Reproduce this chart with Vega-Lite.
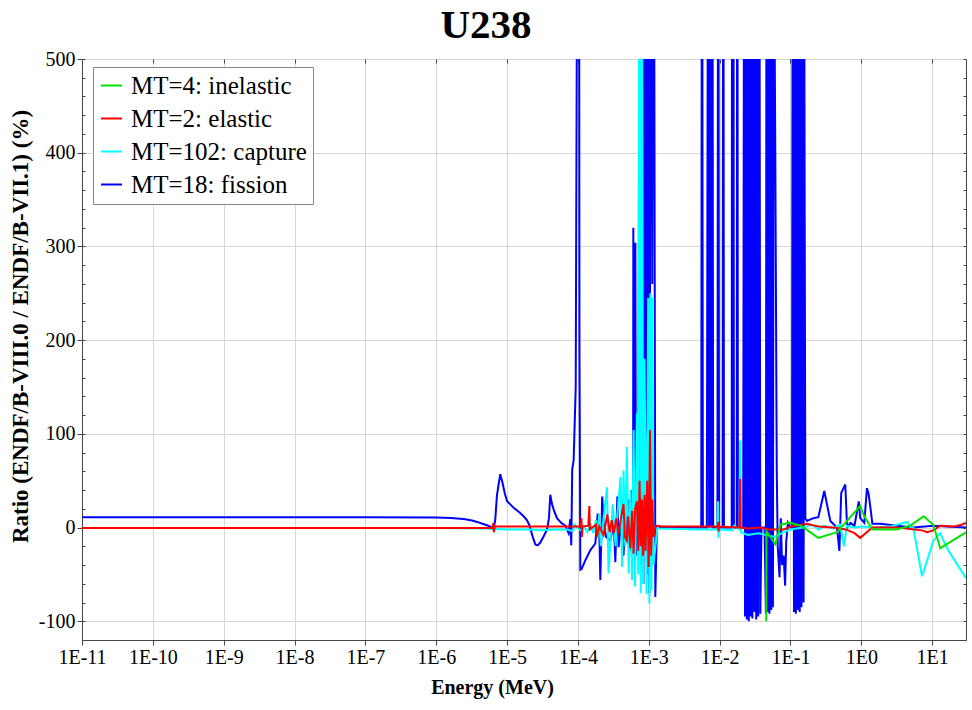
{
  "$schema": "https://vega.github.io/schema/vega-lite/v6.json",
  "width": 884,
  "height": 581,
  "autosize": {"type": "none"},
  "padding": {"left": 82, "top": 59, "right": 6, "bottom": 70},
  "background": "white",
  "title": {"text": "U238", "font": "Liberation Serif", "fontSize": 41, "fontWeight": "bold", "color": "black", "offset": 2, "anchor": "middle", "dx": -38},
  "config": {
    "view": {"stroke": "#444", "strokeWidth": 1},
    "axis": {"domainColor": "#444", "tickColor": "#444", "labelColor": "black", "titleColor": "black", "labelFont": "Liberation Serif", "titleFont": "Liberation Serif", "gridColor": "#d6d6d6", "gridWidth": 1}
  },
  "datasets": {
    "fission": [
      {"e":1e-11,"v":11},{"e":1e-9,"v":11},{"e":1e-7,"v":11},{"e":1e-6,"v":10.8},{"e":1.6e-6,"v":10.3},{"e":2.43e-6,"v":9},{"e":3.2e-6,"v":7.5},{"e":3.76e-6,"v":6},{"e":4.5e-6,"v":4},{"e":5.2e-6,"v":2.5},{"e":5.8e-6,"v":1},{"e":6.1e-6,"v":0},{"e":6.45e-6,"v":-2},{"e":6.8e-6,"v":8},{"e":7.2e-6,"v":35},{"e":8.0e-6,"v":57},{"e":8.6e-6,"v":48},{"e":9.3e-6,"v":36},{"e":1.0e-5,"v":28},{"e":1.24e-5,"v":21},{"e":1.5e-5,"v":16},{"e":1.71e-5,"v":12},{"e":1.9e-5,"v":8},{"e":2.08e-5,"v":2},{"e":2.3e-5,"v":-10},{"e":2.5e-5,"v":-18},{"e":2.7e-5,"v":-19},{"e":2.94e-5,"v":-16},{"e":3.3e-5,"v":-9},{"e":3.66e-5,"v":-2},{"e":3.9e-5,"v":10},{"e":4.07e-5,"v":35},{"e":4.3e-5,"v":25},{"e":4.6e-5,"v":18},{"e":5.06e-5,"v":10},{"e":5.8e-5,"v":5},{"e":6.63e-5,"v":2},{"e":7.38e-5,"v":-6},{"e":7.8e-5,"v":9},{"e":8.05e-5,"v":-19},{"e":8.3e-5,"v":62},{"e":8.7e-5,"v":72},{"e":9.3e-5,"v":150},{"e":9.8e-5,"v":700},{"e":1.02e-4,"v":1500},{"e":1.05e-4,"v":200},{"e":1.08e-4,"v":-45},{"e":1.13e-4,"v":-44},{"e":1.27e-4,"v":-35},{"e":1.5e-4,"v":-24},{"e":1.76e-4,"v":-17},{"e":1.9e-4,"v":15},{"e":2.0e-4,"v":-3},{"e":2.07e-4,"v":-56},{"e":2.2e-4,"v":33},{"e":2.3e-4,"v":5},{"e":2.5e-4,"v":-10},{"e":2.86e-4,"v":-14},{"e":3.0e-4,"v":-6},{"e":3.2e-4,"v":8},{"e":3.37e-4,"v":-37},{"e":3.6e-4,"v":33},{"e":3.75e-4,"v":-21},{"e":3.96e-4,"v":-5},{"e":4.2e-4,"v":12},{"e":4.4e-4,"v":-30},{"e":4.67e-4,"v":20},{"e":4.9e-4,"v":-15},{"e":5.2e-4,"v":30},{"e":5.5e-4,"v":-25},{"e":5.8e-4,"v":40},{"e":6.0e-4,"v":-10},{"e":6.05e-4,"v":320},{"e":6.15e-4,"v":-20},{"e":6.46e-4,"v":304},{"e":6.6e-4,"v":-30},{"e":7.12e-4,"v":40},{"e":7.5e-4,"v":900},{"e":7.7e-4,"v":-40},{"e":7.9e-4,"v":150},{"e":8.1e-4,"v":900},{"e":8.4e-4,"v":-60},{"e":8.7e-4,"v":900},{"e":9.0e-4,"v":100},{"e":9.3e-4,"v":900},{"e":9.6e-4,"v":-50},{"e":9.85e-4,"v":800},{"e":1.02e-3,"v":-70},{"e":1.08e-3,"v":900},{"e":1.12e-3,"v":260},{"e":1.17e-3,"v":900},{"e":1.236e-3,"v":-74},{"e":1.3e-3,"v":0},{"e":5.5e-3,"v":0},{"e":5.64e-3,"v":900},{"e":5.8e-3,"v":0},{"e":6.6e-3,"v":0},{"e":6.92e-3,"v":900},{"e":7.1e-3,"v":0},{"e":7.3e-3,"v":900},{"e":7.6e-3,"v":0},{"e":7.87e-3,"v":900},{"e":8.1e-3,"v":0},{"e":9.3e-3,"v":0},{"e":9.57e-3,"v":900},{"e":9.8e-3,"v":0},{"e":1.10e-2,"v":0},{"e":1.127e-2,"v":900},{"e":1.15e-2,"v":0},{"e":1.48e-2,"v":0},{"e":1.50e-2,"v":900},{"e":1.53e-2,"v":0},{"e":1.56e-2,"v":900},{"e":1.59e-2,"v":0},{"e":1.74e-2,"v":0},{"e":1.774e-2,"v":900},{"e":1.81e-2,"v":0},{"e":2.15e-2,"v":0},{"e":2.23e-2,"v":900},{"e":2.28e-2,"v":-95},{"e":2.35e-2,"v":900},{"e":2.42e-2,"v":-98},{"e":2.5e-2,"v":900},{"e":2.58e-2,"v":-100},{"e":2.66e-2,"v":900},{"e":2.74e-2,"v":-95},{"e":2.82e-2,"v":900},{"e":2.9e-2,"v":-97},{"e":3.0e-2,"v":900},{"e":3.1e-2,"v":-90},{"e":3.18e-2,"v":900},{"e":3.28e-2,"v":-98},{"e":3.4e-2,"v":900},{"e":3.5e-2,"v":-95},{"e":3.62e-2,"v":900},{"e":3.75e-2,"v":-92},{"e":3.9e-2,"v":0},{"e":4.3e-2,"v":0},{"e":4.5e-2,"v":-92},{"e":4.6e-2,"v":900},{"e":4.75e-2,"v":-90},{"e":4.9e-2,"v":900},{"e":5.05e-2,"v":-92},{"e":5.19e-2,"v":900},{"e":5.35e-2,"v":-88},{"e":5.5e-2,"v":900},{"e":5.65e-2,"v":-85},{"e":5.8e-2,"v":700},{"e":6.1e-2,"v":400},{"e":6.4e-2,"v":60},{"e":6.6e-2,"v":-20},{"e":7.0e-2,"v":-53},{"e":7.3e-2,"v":10},{"e":7.6e-2,"v":-40},{"e":8.0e-2,"v":-30},{"e":8.4e-2,"v":-62},{"e":8.7e-2,"v":-15},{"e":9.2e-2,"v":5},{"e":9.9e-2,"v":0},{"e":0.105,"v":0},{"e":0.108,"v":900},{"e":0.112,"v":-90},{"e":0.115,"v":900},{"e":0.119,"v":-92},{"e":0.123,"v":900},{"e":0.127,"v":-88},{"e":0.131,"v":900},{"e":0.135,"v":-90},{"e":0.139,"v":900},{"e":0.143,"v":-85},{"e":0.148,"v":900},{"e":0.153,"v":-80},{"e":0.157,"v":500},{"e":0.162,"v":10},{"e":0.171,"v":7},{"e":0.21,"v":10},{"e":0.247,"v":11},{"e":0.30,"v":39},{"e":0.365,"v":7},{"e":0.453,"v":0},{"e":0.49,"v":-25},{"e":0.52,"v":37},{"e":0.593,"v":46},{"e":0.63,"v":0},{"e":0.70,"v":5},{"e":0.8,"v":2},{"e":0.92,"v":28},{"e":0.964,"v":10},{"e":1.1,"v":5},{"e":1.2,"v":42},{"e":1.265,"v":36},{"e":1.35,"v":20},{"e":1.43,"v":4},{"e":1.85,"v":4},{"e":3.18,"v":2},{"e":5.41,"v":0},{"e":10.36,"v":2},{"e":16,"v":1},{"e":30,"v":0}
    ],
    "capture": [
      {"e":1e-11,"v":-0.5},{"e":1e-6,"v":-0.5},{"e":5e-6,"v":-1},{"e":7e-6,"v":-1.5},{"e":1e-5,"v":-2},{"e":2e-5,"v":-2},{"e":3e-5,"v":-3},{"e":5e-5,"v":-2},{"e":7e-5,"v":-2},{"e":8.5e-5,"v":-4},{"e":9e-5,"v":3},{"e":1e-4,"v":-1},{"e":1.1e-4,"v":-3},{"e":1.2e-4,"v":2},{"e":1.35e-4,"v":-5},{"e":1.5e-4,"v":4},{"e":1.65e-4,"v":-6},{"e":1.8e-4,"v":8},{"e":1.9e-4,"v":-10},{"e":2.0e-4,"v":15},{"e":2.1e-4,"v":-20},{"e":2.3e-4,"v":10},{"e":2.57e-4,"v":43},{"e":2.7e-4,"v":-49},{"e":2.9e-4,"v":-10},{"e":3.1e-4,"v":25},{"e":3.4e-4,"v":-20},{"e":3.6e-4,"v":15},{"e":4.0e-4,"v":54},{"e":4.2e-4,"v":-42},{"e":4.4e-4,"v":61},{"e":4.65e-4,"v":-20},{"e":4.9e-4,"v":86},{"e":5.2e-4,"v":-49},{"e":5.5e-4,"v":40},{"e":5.8e-4,"v":-56},{"e":6.1e-4,"v":104},{"e":6.4e-4,"v":-63},{"e":6.8e-4,"v":122},{"e":7.1e-4,"v":-50},{"e":7.4e-4,"v":900},{"e":7.7e-4,"v":-70},{"e":7.95e-4,"v":900},{"e":8.3e-4,"v":-60},{"e":8.7e-4,"v":180},{"e":9.3e-4,"v":-71},{"e":9.8e-4,"v":245},{"e":1.02e-3,"v":-81},{"e":1.05e-3,"v":250},{"e":1.09e-3,"v":-67},{"e":1.12e-3,"v":245},{"e":1.16e-3,"v":-40},{"e":1.24e-3,"v":-20},{"e":1.32e-3,"v":0},{"e":1.4e-3,"v":-1},{"e":5e-3,"v":-2},{"e":9.3e-3,"v":-2},{"e":9.5e-3,"v":28},{"e":9.6e-3,"v":-11},{"e":9.8e-3,"v":-2},{"e":1.5e-2,"v":-3},{"e":1.6e-2,"v":2},{"e":1.9e-2,"v":-2},{"e":1.95e-2,"v":93},{"e":2.0e-2,"v":-5},{"e":2.5e-2,"v":-8},{"e":3.5e-2,"v":-6},{"e":4.5e-2,"v":-8},{"e":6e-2,"v":-10},{"e":8e-2,"v":-5},{"e":0.1,"v":-2},{"e":0.15,"v":0},{"e":0.2,"v":3},{"e":0.25,"v":-2},{"e":0.3,"v":2},{"e":0.4,"v":-1},{"e":0.5,"v":3},{"e":0.57,"v":-20},{"e":0.62,"v":2},{"e":0.8,"v":0},{"e":1.0,"v":1},{"e":1.5,"v":0},{"e":2.5,"v":1},{"e":4.5,"v":6},{"e":4.9,"v":0},{"e":5.41,"v":0},{"e":6.2,"v":-25},{"e":7.18,"v":-52},{"e":8.5,"v":-35},{"e":10.36,"v":-14},{"e":13,"v":-6},{"e":16.2,"v":-22},{"e":22.4,"v":-39},{"e":30,"v":-54}
    ],
    "elastic": [
      {"e":1e-11,"v":-0.5},{"e":6.2e-6,"v":-0.5},{"e":6.4e-6,"v":5},{"e":6.5e-6,"v":-5},{"e":6.7e-6,"v":1},{"e":1e-5,"v":1},{"e":5e-5,"v":1},{"e":1e-4,"v":1},{"e":1.1e-4,"v":1},{"e":1.12e-4,"v":10},{"e":1.14e-4,"v":-10},{"e":1.16e-4,"v":1},{"e":1.4e-4,"v":2},{"e":1.45e-4,"v":23},{"e":1.47e-4,"v":-2},{"e":1.8e-4,"v":3},{"e":1.85e-4,"v":-10},{"e":2.0e-4,"v":1},{"e":2.3e-4,"v":-8},{"e":2.6e-4,"v":14},{"e":2.8e-4,"v":-5},{"e":3.0e-4,"v":8},{"e":3.2e-4,"v":-6},{"e":3.5e-4,"v":10},{"e":3.7e-4,"v":-8},{"e":4.0e-4,"v":8},{"e":4.4e-4,"v":25},{"e":4.6e-4,"v":-10},{"e":4.9e-4,"v":-14},{"e":5.1e-4,"v":12},{"e":5.5e-4,"v":-22},{"e":5.8e-4,"v":18},{"e":6.1e-4,"v":-28},{"e":6.4e-4,"v":20},{"e":6.8e-4,"v":28},{"e":7.1e-4,"v":-25},{"e":7.4e-4,"v":50},{"e":7.7e-4,"v":-20},{"e":8.0e-4,"v":30},{"e":8.3e-4,"v":-30},{"e":8.7e-4,"v":35},{"e":9.0e-4,"v":-25},{"e":9.5e-4,"v":50},{"e":1.0e-3,"v":-42},{"e":1.04e-3,"v":104},{"e":1.08e-3,"v":-30},{"e":1.12e-3,"v":30},{"e":1.16e-3,"v":-10},{"e":1.25e-3,"v":2},{"e":1.5e-3,"v":1},{"e":5e-3,"v":1},{"e":9.4e-3,"v":1},{"e":9.55e-3,"v":6},{"e":9.65e-3,"v":-4},{"e":9.8e-3,"v":1},{"e":1.9e-2,"v":0},{"e":1.95e-2,"v":52},{"e":1.97e-2,"v":0},{"e":2.5e-2,"v":-1},{"e":3.75e-2,"v":0},{"e":5e-2,"v":-2},{"e":8e-2,"v":-2},{"e":0.1,"v":1},{"e":0.171,"v":4},{"e":0.25,"v":1},{"e":0.4,"v":0},{"e":0.6,"v":-2},{"e":0.8,"v":-6},{"e":0.964,"v":-11},{"e":1.15,"v":-6},{"e":1.43,"v":0},{"e":3.18,"v":0},{"e":7.18,"v":-3},{"e":8.5,"v":-5},{"e":10.36,"v":-3},{"e":13,"v":2},{"e":20,"v":1},{"e":26,"v":3},{"e":30,"v":5}
    ],
    "inelastic": [
      {"e":0.0455,"v":-100},{"e":0.0457,"v":-4},{"e":0.052,"v":-10},{"e":0.061,"v":-18},{"e":0.072,"v":3},{"e":0.0993,"v":5},{"e":0.14,"v":2},{"e":0.247,"v":-11},{"e":0.453,"v":-5},{"e":0.964,"v":23},{"e":1.1,"v":12},{"e":1.43,"v":-2},{"e":3.18,"v":-2},{"e":4.91,"v":2},{"e":7.57,"v":12},{"e":10.36,"v":3},{"e":13,"v":-22},{"e":30,"v":-5}
    ]
  },
  "layer": [
    {
      "encoding": {
        "x": {"field": "e", "type": "quantitative", "scale": {"type": "log", "domain": [1e-11, 30], "nice": false},
          "axis": {"orient": "bottom", "values": [1e-11,1e-10,1e-9,1e-8,1e-7,1e-6,1e-5,1e-4,1e-3,1e-2,1e-1,1,10], "labelExpr": "'1E' + round(log(datum.value)/LN10)", "labelFont": "Liberation Serif", "labelFontSize": 20, "labelPadding": 2, "tickSize": 5, "grid": true, "title": "Energy (MeV)", "titleFontSize": 20, "titleFontWeight": "bold", "titlePadding": 10, "titleX": 410, "labelFlush": false, "labelOverlap": false}},
        "y": {"field": "v", "type": "quantitative", "scale": {"domain": [-120, 500], "nice": false, "zero": false},
          "axis": {"orient": "left", "values": [-100,0,100,200,300,400,500], "labelExpr": "'' + datum.value", "labelFont": "Liberation Serif", "labelFontSize": 20, "labelPadding": 2, "tickSize": 5, "grid": true, "title": "Ratio (ENDF/B-VIII.0 / ENDF/B-VII.1) (%)", "titleFontSize": 23, "titleFontWeight": "bold", "titleX": -50, "titleY": 267}}
      },
      "layer": [
        {"data": {"name": "fission"}, "mark": {"type": "line", "strokeWidth": 2, "clip": true},
          "encoding": {"color": {"datum": "MT=18: fission", "type": "nominal",
            "scale": {"domain": ["MT=4: inelastic","MT=2: elastic","MT=102: capture","MT=18: fission"], "range": ["#00e400","#ff0000","#00ffff","#0000ff"]},
            "legend": {"orient": "none", "legendX": 11, "legendY": 8, "title": null, "labelFont": "Liberation Serif", "labelFontSize": 25, "labelColor": "black", "symbolType": "stroke", "symbolStrokeWidth": 2, "symbolSize": 441, "rowPadding": 7, "padding": 6, "strokeColor": "#888", "fillColor": "white", "labelOffset": 7, "labelLimit": 400}}}},
        {"data": {"name": "capture"}, "mark": {"type": "line", "strokeWidth": 2, "clip": true},
          "encoding": {"color": {"datum": "MT=102: capture", "type": "nominal"}}},
        {"data": {"name": "elastic"}, "mark": {"type": "line", "strokeWidth": 2, "clip": true},
          "encoding": {"color": {"datum": "MT=2: elastic", "type": "nominal"}}},
        {"data": {"name": "inelastic"}, "mark": {"type": "line", "strokeWidth": 2, "clip": true},
          "encoding": {"color": {"datum": "MT=4: inelastic", "type": "nominal"}}}
      ]
    },
    {
      "data": {"name": "inelastic"},
      "mark": {"type": "point", "opacity": 0},
      "encoding": {
        "x": {"field": "e", "type": "quantitative", "scale": {"type": "log", "domain": [1e-11, 30], "nice": false}, "axis": null},
        "y": {"field": "v", "type": "quantitative", "scale": {"domain": [-120, 500], "nice": false, "zero": false},
          "axis": {"orient": "left", "values": [-120,-100,-80,-60,-40,-20,0,20,40,60,80,100,120,140,160,180,200,220,240,260,280,300,320,340,360,380,400,420,440,460,480,500], "tickSize": -3, "labels": false, "domain": false, "grid": false, "title": null}}
      }
    },
    {
      "data": {"name": "inelastic"},
      "mark": {"type": "point", "opacity": 0},
      "encoding": {
        "x": {"field": "e", "type": "quantitative", "scale": {"type": "log", "domain": [1e-11, 30], "nice": false},
          "axis": {"orient": "top", "values": [1e-11,1e-10,1e-9,1e-8,1e-7,1e-6,1e-5,1e-4,1e-3,1e-2,1e-1,1,10], "tickSize": -4, "labels": false, "domain": false, "grid": false, "title": null}},
        "y": {"field": "v", "type": "quantitative", "scale": {"domain": [-120, 500], "nice": false, "zero": false},
          "axis": {"orient": "right", "values": [-100,-80,-60,-40,-20,0,20,40,60,80,100,120,140,160,180,200,220,240,260,280,300,320,340,360,380,400,420,440,460,480,500], "tickSize": -3, "labels": false, "domain": false, "grid": false, "title": null}}
      }
    }
  ],
  "resolve": {"axis": {"x": "independent", "y": "independent"}}
}
